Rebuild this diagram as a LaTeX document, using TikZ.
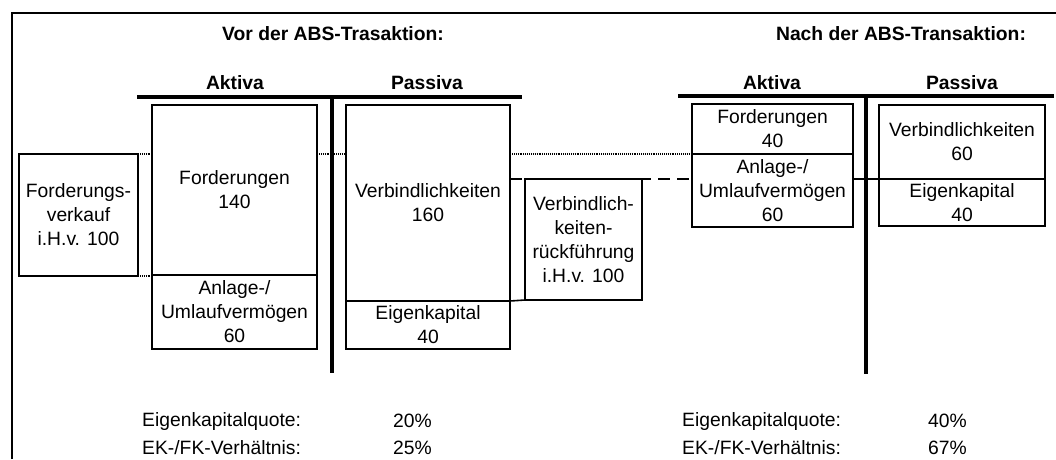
\documentclass[tikz,border=0pt]{standalone}
\usepackage{fontspec}
\setmainfont{Liberation Sans}
\begin{document}
\begin{tikzpicture}[x=1pt,y=-1pt,
  txt/.style={font=\fontsize{19.3}{24}\selectfont, inner sep=0pt, align=center},
  ttl/.style={font=\bfseries\fontsize{19.3}{24}\selectfont, inner sep=0pt},
  box/.style={txt, draw, line width=2.1pt, fill=white, anchor=north west, outer sep=0pt},
  bar/.style={line width=3.8pt},
  dotline/.style={line width=1.3pt, dash pattern=on 1pt off 0.9pt},
  dashline/.style={line width=1.6pt, dash pattern=on 12pt off 7pt},
  lbl/.style={font=\fontsize{19.3}{24}\selectfont, inner sep=0pt, anchor=west}]
\useasboundingbox (0,0) rectangle (1056,459);
% outer frame (partly visible)
\draw[line width=1.7pt] (12,459) -- (12,13) -- (1056,13);

% titles
\node[ttl] (t1) at (333,34) {Vor der ABS-Trasaktion:};
\node[ttl] (t2) at (901,34) {Nach der ABS-Transaktion:};
\node[ttl] (ak1) at (235,83) {Aktiva};
\node[ttl] (pa1) at (427,83) {Passiva};
\node[ttl] (ak2) at (772,83) {Aktiva};
\node[ttl] (pa2) at (962,83) {Passiva};

% T-accounts
\coordinate (b1l) at (137,97);
\coordinate (b1r) at (522,97);
\coordinate (b1t) at (332,97);
\coordinate (b1b) at (332,373);
\coordinate (b2l) at (678,96);
\coordinate (b2r) at (1054,96);
\coordinate (b2t) at (866,96);
\coordinate (b2b) at (866,374);

% connectors drawn beneath the boxes
\coordinate (d1) at (866,179);
\draw[dashline] (525,179) -- (692,179);
\draw[dashline] (853,179) -- (d1);
\draw[line width=1.6pt] (d1) -- (879,179);

\draw[bar] (b1l) -- (b1r);
\draw[bar] (b1t) -- (b1b);
\draw[bar] (b2l) -- (b2r);
\draw[bar] (b2t) -- (b2b);

% before
\node[box, minimum width=119pt, minimum height=122pt] (fv) at (19,154) {Forderungs-\\verkauf\\i.H.v. 100};
\node[box, minimum width=165pt, minimum height=170pt] (ford) at (152,105) {Forderungen\\140};
\node[box, minimum width=165pt, minimum height=74pt] (anl) at (152,275) {Anlage-/\\Umlaufvermögen\\60};
\node[box, minimum width=164pt, minimum height=196pt] (verb) at (346,105) {Verbindlichkeiten\\160};
\node[box, minimum width=164pt, minimum height=48pt] (eig) at (346,301) {Eigenkapital\\40};
\node[box, minimum width=117pt, minimum height=121pt] (vr) at (525,179) {Verbindlich-\\keiten-\\rückführung\\i.H.v. 100};

% after
\node[box, minimum width=161pt, minimum height=50pt] (aford) at (692,104) {Forderungen\\40};
\node[box, minimum width=161pt, minimum height=73pt] (aanl) at (692,154) {Anlage-/\\Umlaufvermögen\\60};
\node[box, minimum width=166pt, minimum height=74pt] (averb) at (879,105) {Verbindlichkeiten\\60};
\node[box, minimum width=166pt, minimum height=47pt] (aeig) at (879,179) {Eigenkapital\\40};

% dotted connectors
\draw[dotline] (fv.north east) -- (ford.west |- fv.north east);
\draw[dotline] (fv.south east) -- (ford.west |- fv.south east);
\draw[dotline] (ford.east |- fv.north east) -- (verb.west |- fv.north east);
\draw[dotline] (verb.east |- aanl.north west) -- (aanl.north west);
% dashed connectors
\draw[dashline] (verb.east |- vr.north west) -- (vr.north west);
\draw[dashline, dash pattern=on 15pt off 4pt] (eig.north east) -- (vr.south west);

% ratios
\node[lbl] (q1) at (142,421) {Eigenkapitalquote:};
\node[lbl] (v1) at (142,448) {EK-/FK-Verhältnis:};
\node[lbl] (q1v) at (393,421) {20\%};
\node[lbl] (v1v) at (393,448) {25\%};
\node[lbl] (q2) at (682,421) {Eigenkapitalquote:};
\node[lbl] (v2) at (682,448) {EK-/FK-Verhältnis:};
\node[lbl] (q2v) at (928,421) {40\%};
\node[lbl] (v2v) at (928,448) {67\%};
\end{tikzpicture}
\end{document}
